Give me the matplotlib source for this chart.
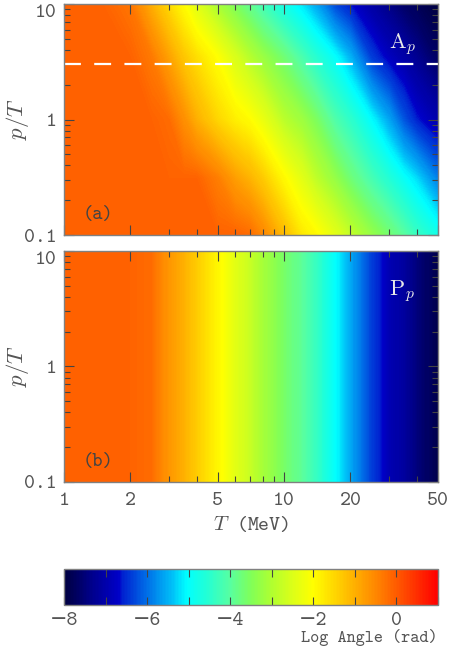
import matplotlib
matplotlib.use('Agg')
import matplotlib.pyplot as plt
import numpy as np
from matplotlib.colors import LinearSegmentedColormap, Normalize
from matplotlib.ticker import FixedLocator, NullFormatter

plt.rcParams['font.family'] = ['cmtt10', 'DejaVu Sans']
plt.rcParams['mathtext.fontset'] = 'cm'
plt.rcParams['axes.formatter.use_mathtext'] = False

TXT = '#555555'
FRAME = '#808080'

# T grid (MeV) shared by both panels
T_grid = [1, 1.5, 2, 2.5, 3, 3.5, 4, 5, 6, 7, 8, 10, 12, 14, 17, 20, 25, 30, 35, 40, 50]

# panel (a): log angle read at several p/T rows
pT_rows_a = [0.1, 0.31, 1.0, 3.5, 10]
angle_a_01 = [-0.1, -0.1, -0.1, -0.1, -0.1, -0.1, -0.1, -0.1, -0.1, -0.2, -0.5,
              -1.15, -1.7, -1.95, -2.4, -2.8, -3.3, -3.65, -4.0, -4.35, -4.8]
angle_a_03 = [-0.1, -0.1, -0.1, -0.1, -0.1, -0.1, -0.1, -0.4, -0.8, -1.05, -1.35,
              -1.95, -2.4, -2.85, -3.3, -3.7, -4.2, -4.6, -4.95, -5.25, -5.9]
angle_a_1 = [-0.1, -0.1, -0.1, -0.1, -0.2, -0.6, -1.0, -1.5, -1.8, -2.0, -2.3,
             -2.9, -3.2, -3.55, -4.1, -4.45, -5.05, -5.6, -6.2, -6.6, -7.0]
angle_a_35 = [-0.1, -0.1, -0.1, -0.35, -0.85, -1.3, -1.6, -2.05, -2.55, -2.95, -3.25,
              -3.7, -4.15, -4.55, -5.0, -5.5, -6.4, -6.8, -7.05, -7.3, -7.7]
angle_a_10 = [-0.1, -0.1, -0.3, -1.0, -1.55, -2.0, -2.45, -3.1, -3.55, -3.9, -4.25,
              -4.8, -5.2, -5.6, -6.3, -6.65, -7.1, -7.4, -7.65, -7.8, -8.0]

# panel (b): depends on T only
pT_rows_b = [0.1, 10]
angle_b = [-0.1, -0.1, -0.1, -0.2, -0.7, -1.0, -1.35, -1.9, -2.4, -2.75, -3.1,
           -3.6, -3.95, -4.35, -5.0, -5.55, -6.35, -6.9, -7.15, -7.45, -7.9]

pT_mean = 3.0  # dashed line in (a)

# colour table
cb_vals = [-8, -7.3, -6.7, -6.6, -6.0, -5.4, -5.05, -4.6, -4.0, -3.5, -3.0, -2.5,
           -2.0, -1.5, -1.0, -0.5, 0, 1]
cb_cols = ['#000040', '#000090', '#0000c8', '#0020d0', '#0070e8', '#00c0f8', '#00ffff',
           '#20ffd8', '#58ffa0', '#80ff58', '#b0ff30', '#dcff18', '#ffff00', '#ffd800',
           '#ffb000', '#ff8800', '#ff5c00', '#ff0000']
vmin, vmax = -8, 1
cmap = LinearSegmentedColormap.from_list(
    'angle', [((v - vmin) / (vmax - vmin), c) for v, c in zip(cb_vals, cb_cols)])
norm = Normalize(vmin=vmin, vmax=vmax)
levels = np.linspace(vmin, vmax, 271)

fig = plt.figure(figsize=(4.5, 6.48), dpi=100)


def colour_field(pos, rows, C):
    # field drawn in log10 units on a hidden axes, the log axes sits on top
    axi = fig.add_axes(pos, zorder=0)
    axi.contourf(np.log10(T_grid), np.log10(rows), C, levels=levels, cmap=cmap,
                 norm=norm, extend='both', antialiased=False)
    axi.set_xlim(np.log10(1), np.log10(50))
    axi.set_ylim(np.log10(0.1), np.log10(10))
    axi.axis('off')
    ax = fig.add_axes(pos, zorder=1)
    ax.patch.set_alpha(0)
    return ax


def style_axes(ax, xlabels):
    ax.set_xscale('log')
    ax.set_yscale('log')
    ax.set_xlim(1, 50)
    ax.set_ylim(0.1, 10)
    ax.xaxis.set_major_locator(FixedLocator([1, 2, 5, 10, 20, 50]))
    ax.xaxis.set_minor_locator(FixedLocator([3, 4, 6, 7, 8, 9, 30, 40]))
    ax.xaxis.set_minor_formatter(NullFormatter())
    if xlabels:
        ax.set_xticklabels(['1', '2', '5', '10', '20', '50'])
    else:
        ax.set_xticklabels([])
    ax.yaxis.set_major_locator(FixedLocator([0.1, 1, 10]))
    ax.yaxis.set_minor_formatter(NullFormatter())
    ylabs = ax.set_yticklabels(['0.1', '1', '10'])
    ylabs[-1].set_verticalalignment('top')
    ax.tick_params(which='both', direction='in', top=True, right=True,
                   colors='#444444', labelcolor=TXT, labelsize=15, width=0.8)
    ax.tick_params(which='major', length=7)
    ax.tick_params(axis='x', which='major', pad=7)
    ax.tick_params(axis='y', which='major', pad=5)
    ax.tick_params(which='minor', length=4)
    for s in ax.spines.values():
        s.set_color(FRAME)
        s.set_linewidth(1.0)
    ax.set_ylabel('$p/T$', fontsize=16.5, color=TXT)
    ax.yaxis.set_label_coords(-0.088, 0.5)


pos_a = [0.1422, 0.6373, 0.8311, 0.3565]
pos_b = [0.1422, 0.2562, 0.8311, 0.3565]

# panel (a)
ax1 = colour_field(pos_a, pT_rows_a,
                   np.array([angle_a_01, angle_a_03, angle_a_1, angle_a_35, angle_a_10]))
style_axes(ax1, False)
ax1.axhline(pT_mean, color='white', lw=1.6, dashes=(7.6, 6.0))
ax1.text(0.87, 0.81, r'$\mathrm{A}_p$', transform=ax1.transAxes, color='#e8e8e8',
         fontsize=16)
ax1.text(0.05, 0.07, '(a)', transform=ax1.transAxes, color='#444444', fontsize=14)

# panel (b)
ax2 = colour_field(pos_b, pT_rows_b, np.array([angle_b, angle_b]))
style_axes(ax2, True)
ax2.set_xlabel('$T$ (MeV)', fontsize=15, color=TXT, labelpad=4)
ax2.text(0.87, 0.81, r'$\mathrm{P}_p$', transform=ax2.transAxes, color='#e8e8e8',
         fontsize=16)
ax2.text(0.05, 0.07, '(b)', transform=ax2.transAxes, color='#444444', fontsize=14)

# colour bar
cax = fig.add_axes([0.1422, 0.0664, 0.8311, 0.0556])
cb = fig.colorbar(plt.cm.ScalarMappable(norm=norm, cmap=cmap), cax=cax,
                  orientation='horizontal')
cb.set_ticks(list(range(-8, 2)))
cb.set_ticklabels(['\u22128', '', '\u22126', '', '\u22124', '', '\u22122', '', '0', ''])
cax.tick_params(direction='in', top=True, bottom=True, length=6, width=0.8,
                colors='#444444', labelcolor=TXT, labelsize=15, pad=5)
cb.outline.set_edgecolor(FRAME)
cb.outline.set_linewidth(1.0)
fig.text(438 / 450, 1 - 638 / 648, 'Log Angle (rad)', ha='right', va='center',
         fontsize=12.5, color=TXT)

plt.savefig('out.png', dpi=100)
